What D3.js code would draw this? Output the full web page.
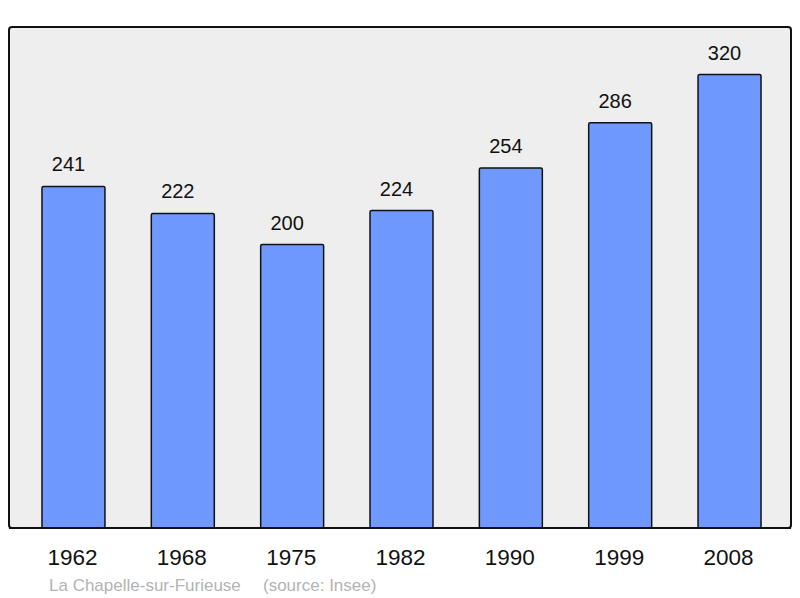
<!DOCTYPE html>
<html>
<head>
<meta charset="utf-8">
<script src="https://cdn.jsdelivr.net/npm/d3@7"></script>
<style>
  body { margin: 0; background: #fff; }
  svg { display: block; font-family: "Liberation Sans", Arial, sans-serif; }
</style>
</head>
<body>
<div id="chart"></div>
<script>
  const years = ['1962', '1968', '1975', '1982', '1990', '1999', '2008'];
  const population = [241, 222, 200, 224, 254, 286, 320];
  const footerName = 'La Chapelle-sur-Furieuse';
  const footerSource = '(source: Insee)';

  const W = 800, H = 598;
  const panel = { left: 9, top: 27, right: 791, bottom: 528 };

  const svg = d3.select('#chart')
    .append('svg')
    .attr('width', W)
    .attr('height', H);

  // Background panel
  svg.append('rect')
    .attr('x', panel.left)
    .attr('y', panel.top)
    .attr('width', panel.right - panel.left)
    .attr('height', panel.bottom - panel.top)
    .attr('rx', 3)
    .attr('fill', '#eeeeee')
    .attr('stroke', '#111')
    .attr('stroke-width', 2);

  const x = d3.scaleBand()
    .domain(years)
    .range([18.8, 784.2])
    .paddingInner(0.424)
    .paddingOuter(0.212);

  const y = d3.scaleLinear()
    .domain([0, 320])
    .range([panel.bottom, 74.5]);

  const data = years.map((yr, i) => ({ year: yr, value: population[i] }));

  // Bars
  svg.selectAll('.bar')
    .data(data)
    .enter()
    .append('rect')
    .attr('class', 'bar')
    .attr('x', d => x(d.year))
    .attr('y', d => y(d.value))
    .attr('width', x.bandwidth())
    .attr('height', d => panel.bottom - y(d.value))
    .attr('rx', 1.5)
    .attr('fill', '#7099ff')
    .attr('stroke', '#111')
    .attr('stroke-width', 1.5);

  // Value labels (sit slightly left of bar centre in the original)
  svg.selectAll('.value')
    .data(data)
    .enter()
    .append('text')
    .attr('x', d => x(d.year) + x.bandwidth() / 2 - 5)
    .attr('y', d => y(d.value) - 15)
    .attr('text-anchor', 'middle')
    .style('font-size', '20px')
    .style('fill', '#111')
    .text(d => d.value);

  // Redraw panel border on top of bar bottoms
  svg.append('line')
    .attr('x1', panel.left)
    .attr('x2', panel.right)
    .attr('y1', panel.bottom)
    .attr('y2', panel.bottom)
    .attr('stroke', '#111')
    .attr('stroke-width', 2);

  // Year labels
  svg.selectAll('.year')
    .data(years)
    .enter()
    .append('text')
    .attr('x', d => x(d) + x.bandwidth() / 2 - 1)
    .attr('y', 565)
    .attr('text-anchor', 'middle')
    .style('font-size', '22.5px')
    .style('fill', '#111')
    .text(d => d);

  // Footer
  svg.append('text')
    .attr('x', 49)
    .attr('y', 591)
    .style('font-size', '17px')
    .style('fill', '#b3b3b3')
    .text(footerName);

  svg.append('text')
    .attr('x', 263)
    .attr('y', 591)
    .style('font-size', '17px')
    .style('fill', '#b3b3b3')
    .text(footerSource);
</script>
</body>
</html>
